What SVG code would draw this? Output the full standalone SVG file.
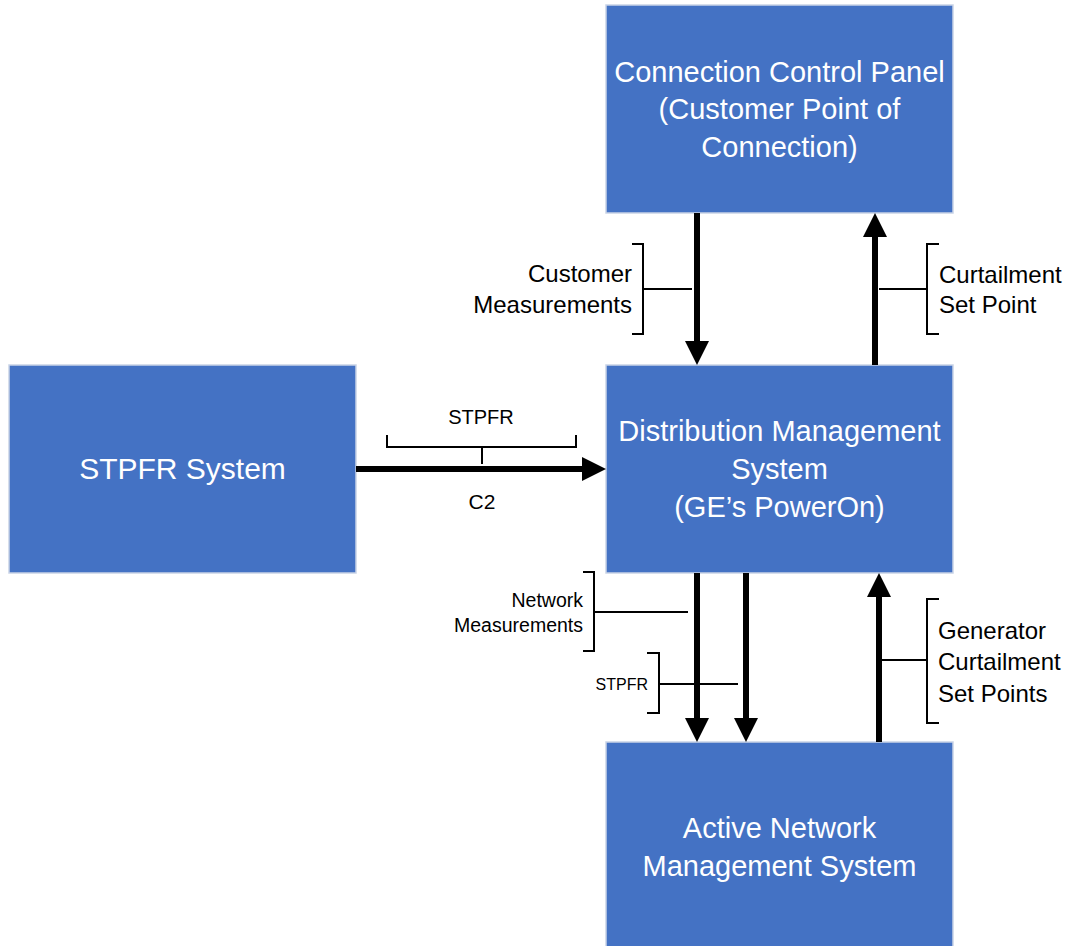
<svg xmlns="http://www.w3.org/2000/svg" width="1072" height="946" viewBox="0 0 1072 946">
<defs>
<style>
.box{fill:#4472C4;stroke:#C9D3E6;stroke-width:1.5}
.bt{fill:#FFFFFF;font-family:"Liberation Sans",Arial,sans-serif;font-size:29px;text-anchor:middle}
.lb{fill:#000000;font-family:"Liberation Sans",Arial,sans-serif}
.arr{stroke:#000;stroke-width:6;fill:none}
.br{stroke:#000;stroke-width:2;fill:none}
</style>
<marker id="ah" markerUnits="userSpaceOnUse" markerWidth="24" markerHeight="24" refX="0" refY="12" orient="auto">
<path d="M0,0 L24,12 L0,24 z" fill="#000"/>
</marker>
</defs>
<rect width="1072" height="946" fill="#FFFFFF"/>
<g id="ccp">
<rect class="box" x="606" y="5" width="347" height="208"/>
<text class="bt" x="779.5" y="82">Connection Control Panel</text>
<text class="bt" x="779.5" y="119">(Customer Point of</text>
<text class="bt" x="779.5" y="157">Connection)</text>
</g>
<g id="dms">
<rect class="box" x="606" y="365" width="347" height="208"/>
<text class="bt" x="779.5" y="441">Distribution Management</text>
<text class="bt" x="779.5" y="479">System</text>
<text class="bt" x="779.5" y="517">(GE’s PowerOn)</text>
</g>
<g id="stpfr">
<rect class="box" x="9" y="365" width="347" height="208"/>
<text class="bt" x="182.5" y="479" style="font-size:30px">STPFR System</text>
</g>
<g id="anms">
<rect class="box" x="606" y="742" width="347" height="210"/>
<text class="bt" x="779.5" y="838">Active Network</text>
<text class="bt" x="779.5" y="876">Management System</text>
</g>
<g id="connectors">
<line class="arr" x1="697" y1="213" x2="697" y2="341" marker-end="url(#ah)"/>
<line class="arr" x1="875" y1="365" x2="875" y2="237" marker-end="url(#ah)"/>
<line class="arr" x1="356" y1="469" x2="582" y2="469" marker-end="url(#ah)"/>
<line class="arr" x1="697" y1="573" x2="697" y2="718" marker-end="url(#ah)"/>
<line class="arr" x1="746" y1="573" x2="746" y2="718" marker-end="url(#ah)"/>
<line class="arr" x1="879" y1="742" x2="879" y2="597" marker-end="url(#ah)"/>
</g>
<g id="labels">
<path class="br" d="M632,244 H643 V334 H632 M643,289 H692"/>
<text class="lb" x="632" y="282" font-size="24" text-anchor="end">Customer</text>
<text class="lb" x="632" y="313" font-size="24" text-anchor="end">Measurements</text>
<path class="br" d="M939,244 H927 V334 H939 M927,289 H879"/>
<text class="lb" x="939" y="283" font-size="24">Curtailment</text>
<text class="lb" x="939" y="313" font-size="24">Set Point</text>
<path class="br" d="M387,435 V447 H576 V435 M482,447 V464"/>
<text class="lb" x="481" y="424" font-size="20" text-anchor="middle">STPFR</text>
<text class="lb" x="482" y="509" font-size="21" text-anchor="middle">C2</text>
<path class="br" d="M583,572 H594 V651 H583 M594,612 H688"/>
<text class="lb" x="583" y="607" font-size="19.5" text-anchor="end">Network</text>
<text class="lb" x="583" y="632" font-size="19.5" text-anchor="end">Measurements</text>
<path class="br" d="M647,653 H659 V713 H647 M659,684 H738"/>
<text class="lb" x="648" y="690" font-size="16" text-anchor="end">STPFR</text>
<path class="br" d="M939,599 H927 V723 H939 M927,660 H880"/>
<text class="lb" x="938" y="639" font-size="24">Generator</text>
<text class="lb" x="938" y="670" font-size="24">Curtailment</text>
<text class="lb" x="938" y="702" font-size="24">Set Points</text>
</g>
</svg>
